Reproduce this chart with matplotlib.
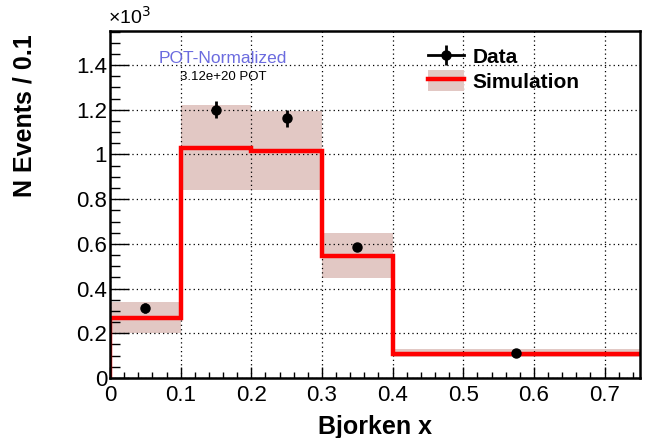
import matplotlib
matplotlib.use("Agg")
import matplotlib.pyplot as plt
import numpy as np
from matplotlib.patches import Patch
from matplotlib.lines import Line2D
from matplotlib.ticker import MultipleLocator

plt.rcParams["font.family"] = ["Liberation Sans", "DejaVu Sans"]

# binning and values (in units of 10^3 events)
bin_edges = [0.0, 0.1, 0.2, 0.3, 0.4, 0.75]
sim_values = [0.268, 1.029, 1.015, 0.546, 0.107]
sim_low = [0.200, 0.840, 0.840, 0.447, 0.094]
sim_high = [0.340, 1.220, 1.194, 0.649, 0.130]

data_x = [0.05, 0.15, 0.25, 0.35, 0.575]
data_y = [0.313, 1.201, 1.163, 0.586, 0.112]
data_err = [0.022, 0.040, 0.038, 0.016, 0.008]

x_ticks = [0, 0.1, 0.2, 0.3, 0.4, 0.5, 0.6, 0.7]
y_ticks = [0, 0.2, 0.4, 0.6, 0.8, 1.0, 1.2, 1.4]
y_tick_labels = ["0", "0.2", "0.4", "0.6", "0.8", "1", "1.2", "1.4"]

band_color = "#e2c8c4"

fig = plt.figure(figsize=(6.47, 4.38), dpi=100)
ax = fig.add_axes([0.170, 0.137, 0.819, 0.792])

edges = np.array(bin_edges)
lefts = edges[:-1]
widths = np.diff(edges)
lo = np.array(sim_low)
hi = np.array(sim_high)
ax.bar(lefts, hi - lo, bottom=lo, width=widths, align="edge",
       color=band_color, edgecolor="none", zorder=1)

# red step histogram, starting from zero at the first edge
vals = np.array(sim_values)
step_x = np.repeat(edges, 2)[:-1]
step_y = np.concatenate([[0.0], np.repeat(vals, 2)])
ax.plot(step_x, step_y, color="red", lw=3.2, solid_joinstyle="miter", zorder=3)

ax.errorbar(data_x, data_y, yerr=data_err, fmt="o", color="black",
            ms=6.5, elinewidth=2, capsize=0, zorder=4)

ax.set_xlim(0, 0.75)
ax.set_ylim(0, 1.552)
ax.set_xticks(x_ticks)
ax.set_xticklabels([f"{t:g}" for t in x_ticks])
ax.set_yticks(y_ticks)
ax.set_yticklabels(y_tick_labels)
ax.xaxis.set_minor_locator(MultipleLocator(0.02))
ax.yaxis.set_minor_locator(MultipleLocator(0.05))
ax.tick_params(axis="both", which="both", direction="in", labelsize=16,
               top=False, right=False, width=1)
ax.tick_params(axis="x", which="major", length=8, pad=5)
ax.tick_params(axis="x", which="minor", length=4)
ax.tick_params(axis="y", which="major", length=14, pad=2)
ax.tick_params(axis="y", which="minor", length=7)
ax.grid(True, which="major", color="black", linestyle=(0, (1, 2.5)), lw=0.9, zorder=2)
ax.set_axisbelow(False)
for sp in ax.spines.values():
    sp.set_linewidth(1.8)
    sp.set_zorder(5)

fig.text(375 / 647, 1 - 427 / 438, "Bjorken x", fontsize=18, fontweight="bold",
         ha="center", va="center")
fig.text(25 / 647, 1 - 116 / 438, "N Events / 0.1", rotation=90, fontsize=18,
         fontweight="bold", ha="center", va="center")
fig.text(0.167, 1 - 17 / 438, "×10$^3$", fontsize=14, ha="left", va="center")

ax.text(0.160, 1.431, "POT-Normalized", color="#6b6bdf", fontsize=12.5,
        ha="center", va="center")
ax.text(0.160, 1.346, "3.12e+20 POT", color="black", fontsize=9.5,
        ha="center", va="center")

data_handle = (Line2D([], [], color="black", marker="o", ms=6.5, lw=2),
               Line2D([], [], color="black", marker="|", ms=14, mew=2, lw=0))
sim_handle = (Patch(facecolor=band_color, edgecolor="none"),
              Line2D([], [], color="red", lw=3.2))
leg = ax.legend([data_handle, sim_handle], ["Data", "Simulation"],
                loc="upper left", bbox_to_anchor=(0.565, 1.012), frameon=False,
                prop={"weight": "bold", "size": 15}, handlelength=1.7,
                handleheight=1.2, handletextpad=0.45, labelspacing=0.12)
leg.set_zorder(6)

fig.savefig("out.png", dpi=100)
